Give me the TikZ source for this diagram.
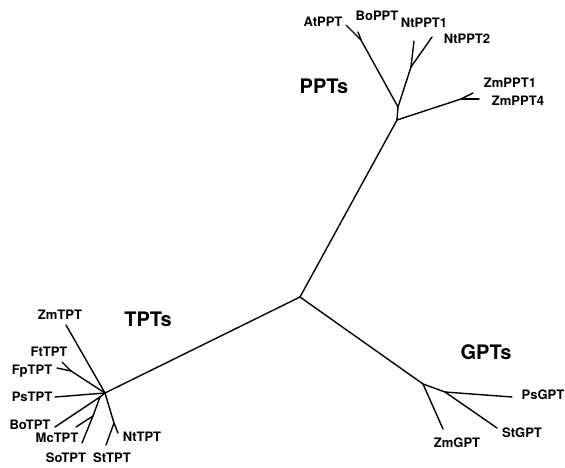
\documentclass[tikz,border=0pt]{standalone}
\usepackage{fontspec}
\setmainfont{TeX Gyre Heros}

\begin{document}
\begin{tikzpicture}[x=1pt,y=-1pt,line width=1.4pt,line cap=round]
   \tikzstyle{leaf}=[font=\bfseries\fontsize{13}{15}\selectfont, inner sep=0pt, text depth=0pt]
   \tikzstyle{family}=[font=\bfseries\fontsize{20}{24}\selectfont, inner sep=0pt, text depth=0pt]
   \useasboundingbox (0,0) rectangle (565,468);
   % inner branch points
   \coordinate (root) at (300,297);
   \coordinate (pR) at (397,120);
   \coordinate (pS) at (398,107);
   \coordinate (pA) at (361,40);
   \coordinate (pN) at (411,67);
   \coordinate (pZ) at (461,99);
   \coordinate (tJ) at (105,393);
   \coordinate (tF) at (71,371);
   \coordinate (tB) at (100,397);
   \coordinate (tM) at (93,416);
   \coordinate (tN) at (114,423);
   \coordinate (gA) at (423,384);
   \coordinate (gB) at (445,392);
   \foreach \a/\b in {root/pR,pR/pS,pS/pA,pS/pN,pR/pZ,root/tJ,tJ/tF,tJ/tB,tB/tM,tJ/tN,root/gA,gA/gB}
       \draw (\a) -- (\b);
   % leaves
   \foreach \name/\up/\tx/\ty/\lx/\ly in {AtPPT/pA/346/25/323/22,BoPPT/pA/358/32/377/16,
       NtPPT1/pN/414/41/424/23,NtPPT2/pN/432/37/467/39,ZmPPT1/pZ/473/93/510/83,
       ZmPPT4/pZ/479/99/518/101,ZmTPT/tJ/66/325/60/315,FtTPT/tF/62/362/49/352,
       FpTPT/tF/57/368/32/370,PsTPT/tJ/55/397/32/397,BoTPT/tB/55/427/30/425,
       McTPT/tM/76/427/57/438,SoTPT/tM/82/443/66/458,StTPT/tN/106/445/112/458,
       NtTPT/tN/118/433/142/437,ZmGPT/gA/443/429/457/443,PsGPT/gB/512/397/543/395,
       StGPT/gB/497/428/522/433} {
       \coordinate (t\name) at (\tx,\ty);
       \node[leaf] (\name) at (\lx,\ly) {\name};
       \draw (\up) -- (t\name);
   }
   \node[family] (ppts) at (324,86) {PPTs};
   \node[family] (tpts) at (148,319) {TPTs};
   \node[family] (gpts) at (486,352) {GPTs};
\end{tikzpicture}
\end{document}
